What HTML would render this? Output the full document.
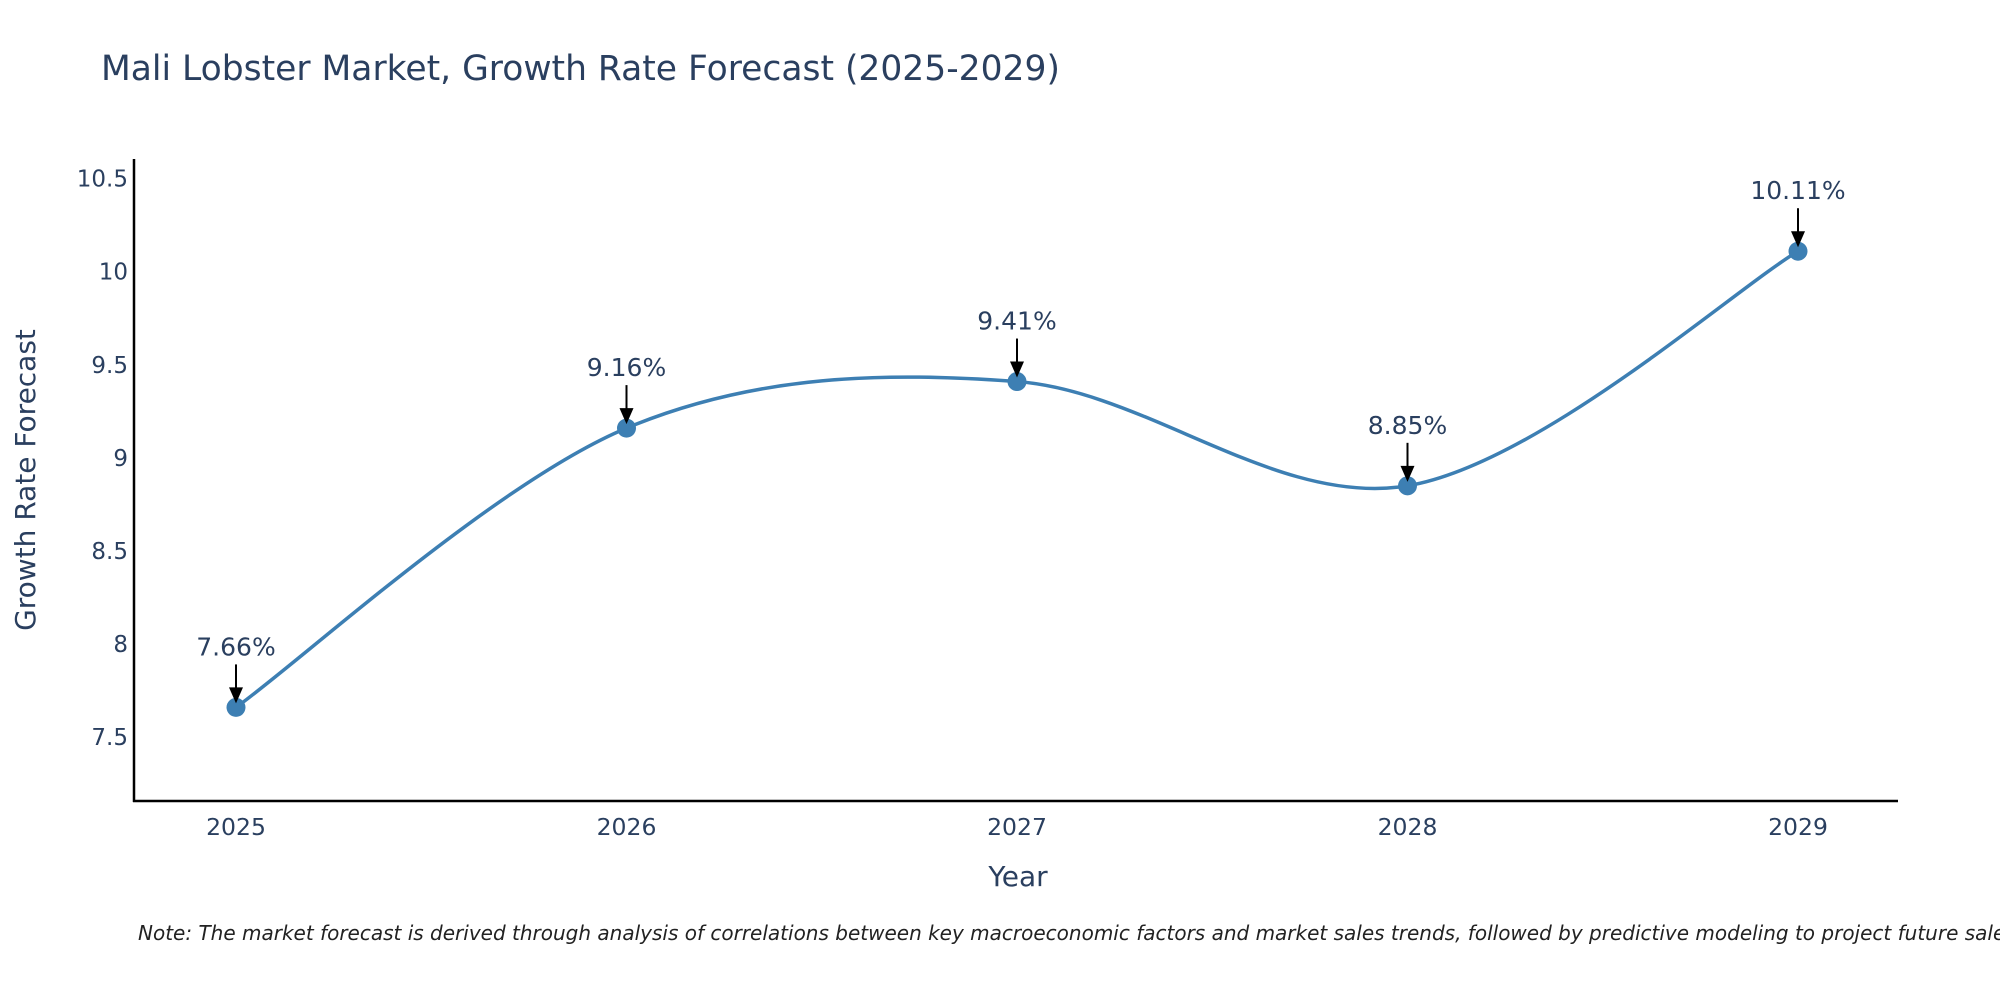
<!DOCTYPE html>
<html><head><meta charset="utf-8"><style>
body{margin:0;background:#fff;overflow:hidden;}
svg{display:block;font-family:"DejaVu Sans","Liberation Sans",sans-serif;}
</style></head><body>
<svg id="chart" width="2000" height="1000">
<text x="101" y="80" font-size="34.5" fill="#2a3f5f">Mali Lobster Market, Growth Rate Forecast (2025-2029)</text>
<g id="yticks"></g><g id="xticks"></g>
<line x1="134" y1="159" x2="134" y2="802" stroke="#000" stroke-width="2.5"/>
<line x1="133" y1="801" x2="1898" y2="801" stroke="#000" stroke-width="2.5"/>
<path id="line" fill="none" stroke="#3d7fb3" stroke-width="3.5"/>
<g id="marks"></g>
<text x="1018" y="886" font-size="28" fill="#2a3f5f" text-anchor="middle">Year</text>
<text transform="translate(35,480) rotate(-90)" font-size="28" fill="#2a3f5f" text-anchor="middle">Growth Rate Forecast</text>
<text x="138" y="940" font-size="20" font-style="italic" fill="#222">Note: The market forecast is derived through analysis of correlations between key macroeconomic factors and market sales trends, followed by predictive modeling to project future sales.</text>
</svg>
<script>
const years=[2025,2026,2027,2028,2029];
const values=[7.66,9.16,9.41,8.85,10.11];
const labels=["7.66%","9.16%","9.41%","8.85%","10.11%"];
const yTicks=[7.5,8,8.5,9,9.5,10,10.5];
const NS="http://www.w3.org/2000/svg";
const xs=y=>236+(y-2025)*390.5;
const ys=v=>271.7-(v-10)*186.2;
function mk(t,a,p){const e=document.createElementNS(NS,t);for(const k in a)e.setAttribute(k,a[k]);p.appendChild(e);return e;}
const yt=document.getElementById('yticks');
yTicks.forEach(v=>{const t=mk('text',{x:128,y:ys(v)+8,'font-size':23,fill:'#2a3f5f','text-anchor':'end'},yt);


t.textContent=String(v);});
const xt=document.getElementById('xticks');
years.forEach(y=>{const t=mk('text',{x:xs(y),y:835,'font-size':23.5,fill:'#2a3f5f','text-anchor':'middle'},xt);


t.textContent=String(y);});
const P=years.map((y,i)=>[xs(y),ys(values[i])]);
let d=`M${P[0][0]},${P[0][1]}`;
for(let i=0;i<P.length-1;i++){
 const p0=P[Math.max(i-1,0)],p1=P[i],p2=P[i+1],p3=P[Math.min(i+2,P.length-1)];
 const c1=[p1[0]+(p2[0]-p0[0])/6,p1[1]+(p2[1]-p0[1])/6];
 const c2=[p2[0]-(p3[0]-p1[0])/6,p2[1]-(p3[1]-p1[1])/6];
 d+=` C${c1[0]},${c1[1]} ${c2[0]},${c2[1]} ${p2[0]},${p2[1]}`;
}
document.getElementById('line').setAttribute('d',d);
const g=document.getElementById('marks');
P.forEach((p,i)=>{
 const c=mk('circle',{cx:p[0],cy:p[1],r:9.5,fill:'#3d7fb3'},g);
 
 
 const l=mk('line',{x1:p[0],y1:p[1]-43,x2:p[0],y2:p[1]-18,stroke:'#000','stroke-width':2},g);
 
 
 const h=mk('polygon',{points:`${p[0]-7},${p[1]-20} ${p[0]+7},${p[1]-20} ${p[0]},${p[1]-4}`,fill:'#000'},g);
 
 
 const t=mk('text',{x:p[0],y:p[1]-52,'font-size':25,fill:'#2a3f5f','text-anchor':'middle'},g);
 
 
 t.textContent=labels[i];
});
</script>
</body></html>
